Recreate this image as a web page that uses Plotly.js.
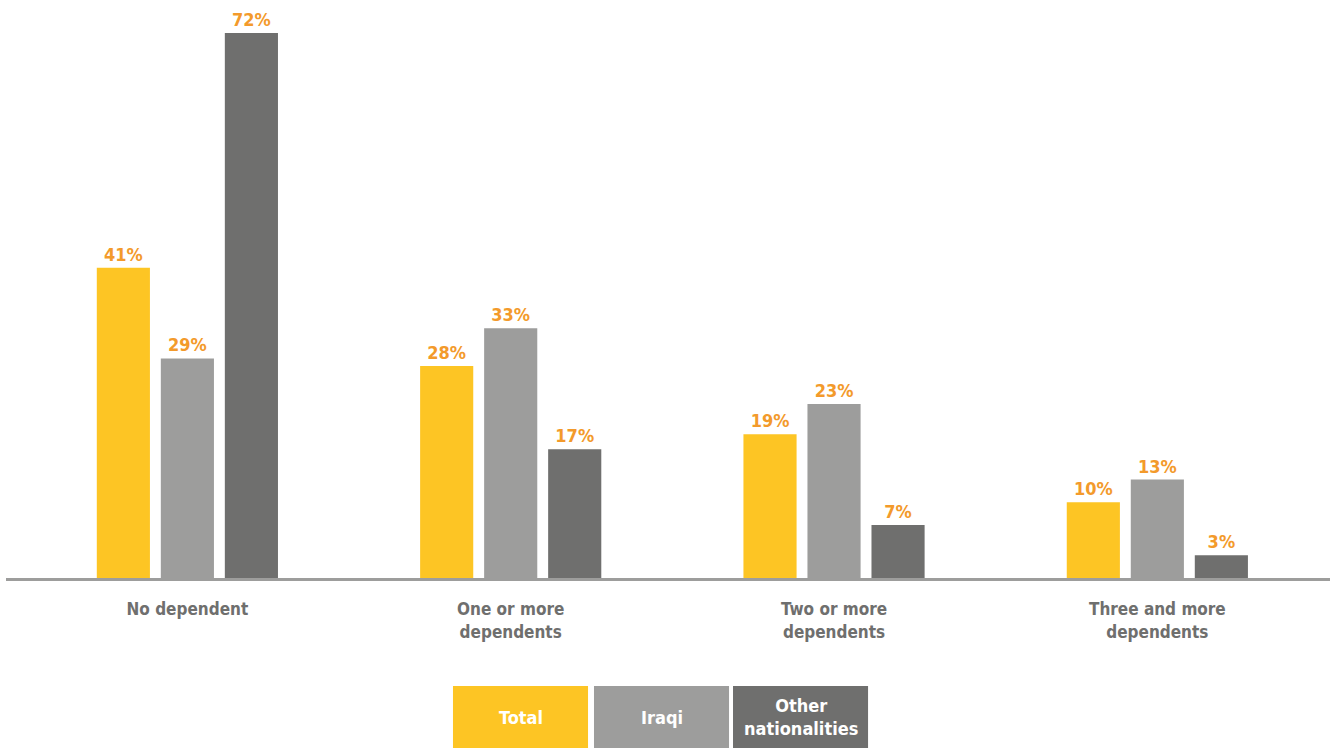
<!DOCTYPE html>
<html>
<head>
<meta charset="utf-8">
<script src="https://cdn.plot.ly/plotly-3.0.1.min.js"></script>
<style>html,body{margin:0;padding:0;background:#fff;}#chart{width:1333px;height:749px;}</style>
</head>
<body>
<div id="chart"></div>
<script>
const categories = ["No dependent", "One or more<br>dependents", "Two or more<br>dependents", "Three and more<br>dependents"];
const seriesNames = ["Total", "Iraqi", "Other<br>nationalities"];
const totalValues = [41, 28, 19, 10];
const iraqiValues = [29, 33, 23, 13];
const otherValues = [72, 17, 7, 3];
const seriesColors = ["#FDC524", "#9D9D9C", "#6F6F6E"];

const FONT = "'Liberation Sans Narrow', 'DejaVu Sans Condensed', Arial Narrow, sans-serif";
const allValues = [totalValues, iraqiValues, otherValues];

const traces = allValues.map((vals, i) => ({
  type: "bar",
  x: categories,
  y: vals,
  name: seriesNames[i],
  marker: {color: seriesColors[i]},
  text: vals.map(v => v + "%"),
  textposition: "outside",
  cliponaxis: false,
  textfont: {family: FONT, size: 18, color: "#F39A2B", weight: 700},
  hoverinfo: "skip"
}));

// legend boxes (paper coords)
const boxX = [[0.3376, 0.4396], [0.4441, 0.5461], [0.5491, 0.6511]];
const shapes = boxX.map((b, i) => ({
  type: "rect", xref: "paper", yref: "paper",
  x0: b[0], x1: b[1], y0: -0.294, y1: -0.1869,
  fillcolor: seriesColors[i], line: {width: 0}
}));
const annotations = boxX.map((b, i) => ({
  xref: "paper", yref: "paper",
  x: (b[0] + b[1]) / 2, y: -0.2405,
  xanchor: "center", yanchor: "middle",
  text: "<b>" + seriesNames[i] + "</b>",
  showarrow: false,
  font: {family: FONT, size: 18, color: "#ffffff"}
}));

const layout = {
  width: 1333, height: 749,
  margin: {l: 6, r: 3, t: 0, b: 171},
  paper_bgcolor: "#ffffff", plot_bgcolor: "#ffffff",
  barmode: "group",
  bargap: 0.406,
  bargroupgap: 0.17,
  showlegend: false,
  xaxis: {
    type: "category",
    range: [-0.561, 3.534],
    showline: true, linecolor: "#9D9D9C", linewidth: 3,
    showgrid: false, zeroline: false, ticks: "",
    tickfont: {family: FONT, size: 17, color: "#6F6F6E", weight: 700},
    ticklabelstandoff: 14,
    fixedrange: true
  },
  yaxis: {
    range: [0, 76.36],
    visible: false, showgrid: false, zeroline: false,
    fixedrange: true
  },
  shapes: shapes,
  annotations: annotations,
  font: {family: FONT}
};

Plotly.newPlot("chart", traces, layout, {displayModeBar: false, staticPlot: true});
</script>
</body>
</html>
